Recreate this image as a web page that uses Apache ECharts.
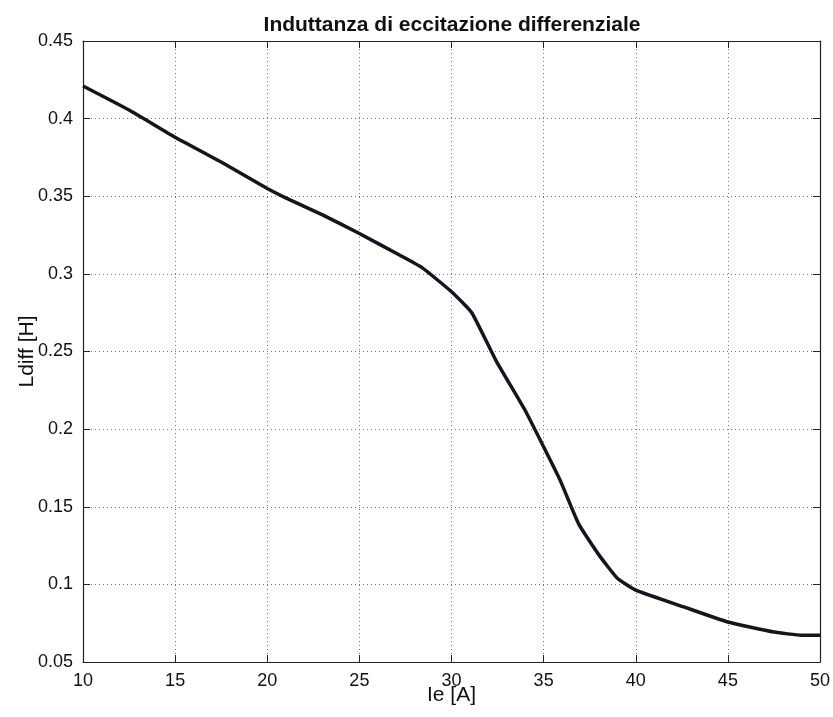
<!DOCTYPE html>
<html>
<head>
<meta charset="utf-8">
<script src="https://cdn.jsdelivr.net/npm/echarts@6/dist/echarts.min.js"></script>
<style>
html, body { margin: 0; padding: 0; background: #fff; }
#main { width: 833px; height: 717px; }
</style>
</head>
<body>
<div id="main"></div>
<script>
// corrente di eccitazione [A]
var ie = [10, 12.5, 15, 17.5, 20, 21, 23, 25, 27.2, 28.4, 30, 31.1, 32.4, 34, 35, 35.9, 36.9, 38, 39, 40, 42.6, 45, 47.5, 49, 50];
// induttanza differenziale [H]
var ldiff = [0.421, 0.4055, 0.388, 0.372, 0.355, 0.349, 0.338, 0.326, 0.312, 0.304, 0.2885, 0.275, 0.2445, 0.212, 0.1886, 0.167, 0.139, 0.119, 0.104, 0.0963, 0.0855, 0.0758, 0.0693, 0.0673, 0.0673];

var points = ie.map(function(x, i) { return [x, ldiff[i]]; });

var font = 'Liberation Sans, Arial, sans-serif';
var splitLine = { show: true, lineStyle: { color: '#777', type: [1, 3], width: 1 } };

var myChart = echarts.init(document.getElementById('main'));
myChart.setOption({
    animation: false,
    title: {
	text: 'Induttanza di eccitazione differenziale',
	left: 447, top: 10, textAlign: 'center',
	textStyle: { fontFamily: font, fontSize: 21, fontWeight: 'bold', color: '#111' }
    },
    grid: { left: 83, right: 13, top: 41, bottom: 55, outerBoundsMode: 'none' },
    xAxis: [{
	type: 'value', min: 10, max: 50, interval: 5,
	name: 'Ie [A]', nameLocation: 'middle', nameGap: 23, nameMoveOverlap: false,
	nameTextStyle: { fontFamily: font, fontSize: 21, color: '#111' },
	axisLine: { onZero: false, lineStyle: { color: '#222', width: 1.2 } },
	axisTick: { inside: true, length: 7, lineStyle: { color: '#222' } },
	axisLabel: { fontFamily: font, fontSize: 18, color: '#111', margin: 10 },
	splitLine: splitLine
    }, {
	type: 'value', min: 10, max: 50, interval: 5, position: 'top',
	axisLine: { onZero: false, lineStyle: { color: '#222', width: 1.2 } },
	axisTick: { inside: true, length: 7, lineStyle: { color: '#222' } },
	axisLabel: { show: false }, splitLine: { show: false }
    }],
    yAxis: [{
	type: 'value', min: 0.05, max: 0.45, interval: 0.05,
	name: 'Ldiff [H]', nameLocation: 'middle', nameGap: 45, nameMoveOverlap: false,
	nameTextStyle: { fontFamily: font, fontSize: 21, color: '#111' },
	axisLine: { show: true, onZero: false, lineStyle: { color: '#222', width: 1.2 } },
	axisTick: { show: true, inside: true, length: 7, lineStyle: { color: '#222' } },
	axisLabel: { fontFamily: font, fontSize: 18, color: '#111', margin: 10,
		     formatter: function(v) { return String(+v.toFixed(2)); } },
	splitLine: splitLine
    }, {
	type: 'value', min: 0.05, max: 0.45, interval: 0.05, position: 'right',
	axisLine: { show: true, onZero: false, lineStyle: { color: '#222', width: 1.2 } },
	axisTick: { show: true, inside: true, length: 7, lineStyle: { color: '#222' } },
	axisLabel: { show: false }, splitLine: { show: false }
    }],
    series: [{
	type: 'line',
	data: points,
	smooth: 0.15,
	showSymbol: false,
	lineStyle: { color: '#151520', width: 3.5 }
    }]
});
</script>
</body>
</html>
